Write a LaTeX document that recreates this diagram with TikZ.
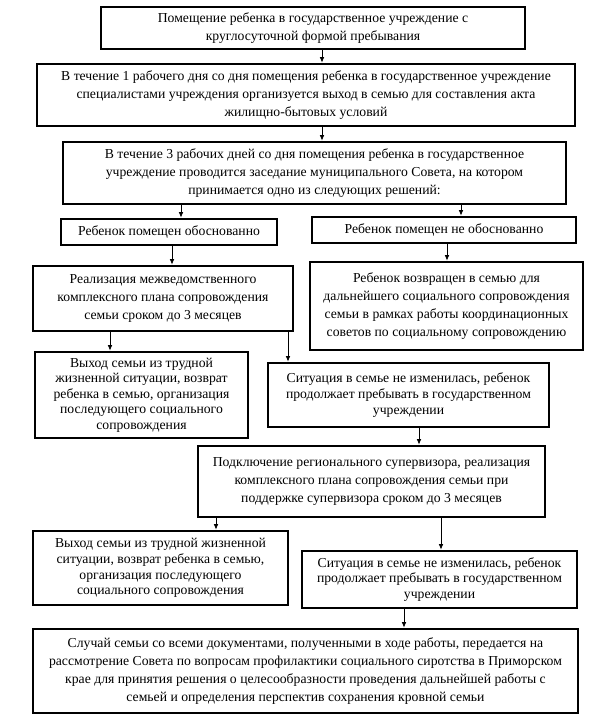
\documentclass[tikz,border=0pt]{standalone}
\usepackage{fontspec}
\setmainfont{Liberation Serif}
\usetikzlibrary{arrows.meta}
\tikzset{
  box/.style={draw=black, line width=2.6pt, align=center, inner sep=0pt,
    font=\fontsize{13.7}{18}\selectfont},
  tight/.style={font=\fontsize{13.7}{15.6}\selectfont},
  arr/.style={-{Latex[length=5.5pt,width=4.5pt]}, line width=0.8pt}
}
\newcommand{\bx}[6]{% name, cx, cy, w, h, text
  \node[box, minimum width=#4pt, minimum height=#5pt] (#1) at (#2pt,-#3pt) {#6};}
\begin{document}
\begin{tikzpicture}
\useasboundingbox (0,0) rectangle (597pt,-718pt);
\bx{b1}{313}{28}{424}{42}{Помещение ребенка в государственное учреждение с\\круглосуточной формой пребывания}
\bx{b2}{306}{95}{538}{62}{В течение 1 рабочего дня со дня помещения ребенка в государственное учреждение\\специалистами учреждения организуется выход в семью для составления акта\\жилищно-бытовых условий}
\bx{b3}{314.5}{173}{503}{62}{В течение 3 рабочих дней со дня помещения ребенка в государственное\\учреждение проводится заседание муниципального Совета, на котором\\принимается одно из следующих решений:}
\bx{b4}{169}{232}{216}{26}{Ребенок помещен обоснованно}
\bx{b5}{444}{230}{264}{26}{Ребенок помещен не обоснованно}
\bx{b6}{163}{298.5}{260}{65}{Реализация межведомственного\\комплексного плана сопровождения\\семьи сроком до 3 месяцев}
\bx{b7}{446.5}{306}{273}{88}{Ребенок возвращен в семью для\\дальнейшего социального сопровождения\\семьи в рамках работы координационных\\советов по социальному сопровождению}
\node[box, tight, minimum width=213pt, minimum height=86pt] (b8) at (141.5pt,-395pt) {Выход семьи из трудной\\жизненной ситуации, возврат\\ребенка в семью, организация\\последующего социального\\сопровождения};
\node[box, tight, minimum width=281pt, minimum height=64pt] (b9) at (408.5pt,-395pt) {Ситуация в семье не изменилась, ребенок\\продолжает пребывать в государственном\\учреждении};
\bx{b10}{371.5}{481.5}{347}{71}{Подключение регионального супервизора, реализация\\комплексного плана сопровождения семьи при\\поддержке супервизора сроком до 3 месяцев}
\node[box, tight, minimum width=255pt, minimum height=74pt] (b11) at (160.5pt,-568pt) {Выход семьи из трудной жизненной\\ситуации, возврат ребенка в семью,\\организация последующего\\социального сопровождения};
\node[box, tight, minimum width=275pt, minimum height=57pt] (b12) at (439.5pt,-579.5pt) {Ситуация в семье не изменилась, ребенок\\продолжает пребывать в государственном\\учреждении};
\bx{b13}{305.5}{671}{545}{84}{Случай семьи со всеми документами, полученными в ходе работы, передается на\\рассмотрение Совета по вопросам профилактики социального сиротства в Приморском\\крае для принятия решения о целесообразности проведения дальнейшей работы с\\семьей и определения перспектив сохранения кровной семьи}
\draw[arr] ([xshift=9pt]b1.south) -- ([xshift=9pt]b1.south |- b2.north);
\draw[arr] ([xshift=16pt]b2.south) -- ([xshift=16pt]b2.south |- b3.north);
\draw[arr] ([xshift=-133.5pt]b3.south) -- ([xshift=-133.5pt]b3.south |- b4.north);
\draw[arr] ([xshift=146.5pt]b3.south) -- ([xshift=146.5pt]b3.south |- b5.north);
\draw[arr] ([xshift=3pt]b4.south) -- ([xshift=3pt]b4.south |- b6.north);
\draw[arr] ([xshift=3pt]b5.south) -- ([xshift=3pt]b5.south |- b7.north);
\draw[arr] ([xshift=-53pt]b6.south) -- ([xshift=-53pt]b6.south |- b8.north);
\draw[arr] ([xshift=125pt]b6.south) -- ([xshift=125pt]b6.south |- b9.north);
\draw[arr] ([xshift=10.5pt]b9.south) -- ([xshift=10.5pt]b9.south |- b10.north);
\draw[arr] ([xshift=-155.5pt]b10.south) -- ([xshift=-155.5pt]b10.south |- b11.north);
\draw[arr] ([xshift=69.5pt]b10.south) -- ([xshift=69.5pt]b10.south |- b12.north);
\draw[arr] ([xshift=-35.5pt]b12.south) -- ([xshift=-35.5pt]b12.south |- b13.north);
\end{tikzpicture}
\end{document}
